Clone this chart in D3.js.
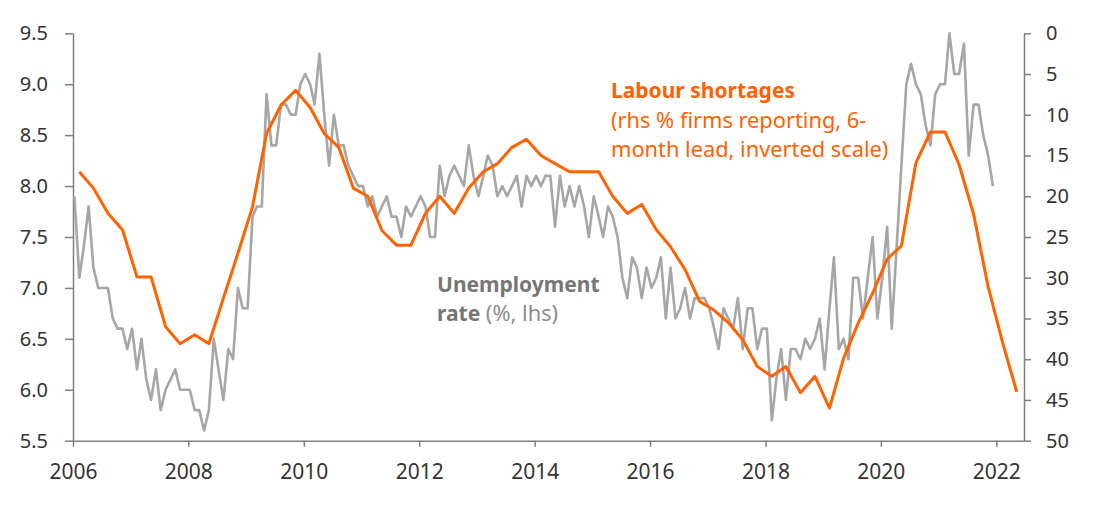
<!DOCTYPE html>
<html>
<head>
<meta charset="utf-8">
<script src="https://cdn.jsdelivr.net/npm/d3@7"></script>
<style>
  body { margin: 0; background: #fff; }
  svg text { font-family: "Noto Sans", sans-serif; }
</style>
</head>
<body>
<div id="chart"></div>
<script>
// Unemployment rate (%, lhs), monthly Jan 2006 - Dec 2021
const unemployment = [
  7.9, 7.1, 7.4, 7.8, 7.2, 7.0, 7.0, 7.0, 6.7, 6.6, 6.6, 6.4,
  6.6, 6.2, 6.5, 6.1, 5.9, 6.2, 5.8, 6.0, 6.1, 6.2, 6.0, 6.0,
  6.0, 5.8, 5.8, 5.6, 5.8, 6.5, 6.2, 5.9, 6.4, 6.3, 7.0, 6.8,
  6.8, 7.7, 7.8, 7.8, 8.9, 8.4, 8.4, 8.8, 8.8, 8.7, 8.7, 9.0,
  9.1, 9.0, 8.8, 9.3, 8.7, 8.2, 8.7, 8.4, 8.4, 8.2, 8.1, 8.0,
  8.0, 7.8, 7.9, 7.7, 7.8, 7.9, 7.7, 7.7, 7.5, 7.8, 7.7, 7.8,
  7.9, 7.8, 7.5, 7.5, 8.2, 7.9, 8.1, 8.2, 8.1, 8.0, 8.4, 8.1,
  7.9, 8.1, 8.3, 8.2, 7.9, 8.0, 7.9, 8.0, 8.1, 7.8, 8.1, 8.0,
  8.1, 8.0, 8.1, 8.1, 7.6, 8.1, 7.8, 8.0, 7.8, 8.0, 7.8, 7.5,
  7.9, 7.7, 7.5, 7.8, 7.7, 7.5, 7.1, 6.9, 7.3, 7.2, 6.9, 7.2,
  7.0, 7.1, 7.3, 6.7, 7.2, 6.7, 6.8, 7.0, 6.7, 6.9, 6.9, 6.9,
  6.8, 6.6, 6.4, 6.8, 6.7, 6.6, 6.9, 6.4, 6.8, 6.8, 6.4, 6.6,
  6.6, 5.7, 6.1, 6.4, 5.9, 6.4, 6.4, 6.3, 6.5, 6.4, 6.5, 6.7,
  6.2, 6.8, 7.3, 6.4, 6.5, 6.3, 7.1, 7.1, 6.7, 7.1, 7.5, 6.7,
  7.1, 7.6, 6.6, 7.4, 8.2, 9.0, 9.2, 9.0, 8.9, 8.6, 8.4, 8.9,
  9.0, 9.0, 9.5, 9.1, 9.1, 9.4, 8.3, 8.8, 8.8, 8.5, 8.3, 8.0
];

// Labour shortages (rhs % firms reporting, 6-month lead), quarterly, mid-quarter Q1 2006 - Q2 2022
const shortages = [
  17.0, 19.0, 22.1, 24.1,
  29.9, 29.9, 36.0, 38.1,
  37.0, 38.1, 32.5, 27.0,
  21.3, 12.3, 8.8, 7.0,
  9.1, 12.3, 14.0, 19.0,
  20.0, 24.2, 26.0, 26.0,
  22.1, 20.0, 22.1, 19.0,
  17.0, 16.0, 14.0, 13.0,
  15.0, 16.0, 17.0, 17.0,
  17.0, 20.0, 22.1, 21.0,
  24.1, 26.2, 29.0, 32.9,
  34.0, 35.5, 37.6, 40.9,
  42.1, 40.9, 44.1, 42.1,
  46.0, 39.9, 35.6, 31.9,
  27.7, 26.1, 15.9, 12.1,
  12.1, 16.1, 22.2, 31.1,
  38.0, 44.0
];

const leftTicks = [5.5, 6.0, 6.5, 7.0, 7.5, 8.0, 8.5, 9.0, 9.5];
const rightTicks = [0, 5, 10, 15, 20, 25, 30, 35, 40, 45, 50];
const yearTicks = [2006, 2008, 2010, 2012, 2014, 2016, 2018, 2020, 2022];

const W = 1097, H = 528;
const margin = { top: 33.3, right: 73, bottom: 87.3, left: 73 };

const unempData = unemployment.map((v, i) => ({ date: new Date(2006, i, 10), value: v }));
const shortData = shortages.map((v, k) => ({ date: new Date(2006, 1 + 3 * k, 10), value: v }));

const svg = d3.select("#chart").append("svg")
  .attr("width", W)
  .attr("height", H);

const x = d3.scaleTime()
  .domain([new Date(2006, 0, 1), new Date(2022, 5, 25)])
  .range([margin.left, W - margin.right]);

const yLeft = d3.scaleLinear()
  .domain([5.5, 9.5])
  .range([H - margin.bottom, margin.top]);

const yRight = d3.scaleLinear()
  .domain([0, 50])
  .range([margin.top, H - margin.bottom]);

const axisColor = "#7f7f7f";
const labelColor = "#333333";

function styleAxis(g, size) {
  g.select(".domain").attr("stroke", axisColor).attr("stroke-width", 1.5);
  g.selectAll(".tick line").attr("stroke", axisColor).attr("stroke-width", 1.5);
  g.selectAll(".tick text").attr("fill", labelColor).style("font-size", size + "px");
}

// Axes
svg.append("g")
  .attr("transform", `translate(0,${H - margin.bottom})`)
  .call(d3.axisBottom(x)
    .tickValues(yearTicks.map(y => new Date(y, 0, 1)))
    .tickFormat(d3.timeFormat("%Y"))
    .tickSize(6).tickSizeOuter(0).tickPadding(17))
  .call(g => styleAxis(g, 21));

svg.append("g")
  .attr("transform", `translate(${margin.left},0)`)
  .call(d3.axisLeft(yLeft)
    .tickValues(leftTicks)
    .tickFormat(d3.format(".1f"))
    .tickSize(8).tickSizeOuter(0).tickPadding(17))
  .call(g => styleAxis(g, 20));

svg.append("g")
  .attr("transform", `translate(${W - margin.right},0)`)
  .call(d3.axisRight(yRight)
    .tickValues(rightTicks)
    .tickSize(7).tickSizeOuter(0).tickPadding(15))
  .call(g => styleAxis(g, 20));

// Lines
const unempLine = d3.line()
  .x(d => x(d.date))
  .y(d => yLeft(d.value));

const shortLine = d3.line()
  .x(d => x(d.date))
  .y(d => yRight(d.value));

svg.append("path")
  .datum(unempData)
  .attr("fill", "none")
  .attr("stroke", "#a6a6a6")
  .attr("stroke-width", 2.6)
  .attr("stroke-linejoin", "round")
  .attr("d", unempLine);

svg.append("path")
  .datum(shortData)
  .attr("fill", "none")
  .attr("stroke", "#ff6200")
  .attr("stroke-width", 3)
  .attr("stroke-linejoin", "round")
  .attr("d", shortLine);

// Annotations
const orangeLabel = svg.append("g").attr("fill", "#ff6200").style("font-size", "21.8px");
orangeLabel.append("text")
  .attr("x", 611).attr("y", 98)
  .style("font-weight", "bold")
  .style("font-size", "21px")
  .text("Labour shortages");
orangeLabel.append("text")
  .attr("x", 611).attr("y", 128)
  .text("(rhs % firms reporting, 6-");
orangeLabel.append("text")
  .attr("x", 611).attr("y", 157)
  .text("month lead, inverted scale)");

const grayLabel = svg.append("g").style("font-size", "21px");
grayLabel.append("text")
  .attr("x", 437).attr("y", 292)
  .attr("fill", "#767676")
  .style("font-weight", "bold")
  .text("Unemployment");
const rateText = grayLabel.append("text")
  .attr("x", 437).attr("y", 321);
rateText.append("tspan")
  .attr("fill", "#767676")
  .style("font-weight", "bold")
  .text("rate");
rateText.append("tspan")
  .attr("fill", "#8c8c8c")
  .style("font-size", "21.8px")
  .text(" (%, lhs)");
</script>
</body>
</html>
